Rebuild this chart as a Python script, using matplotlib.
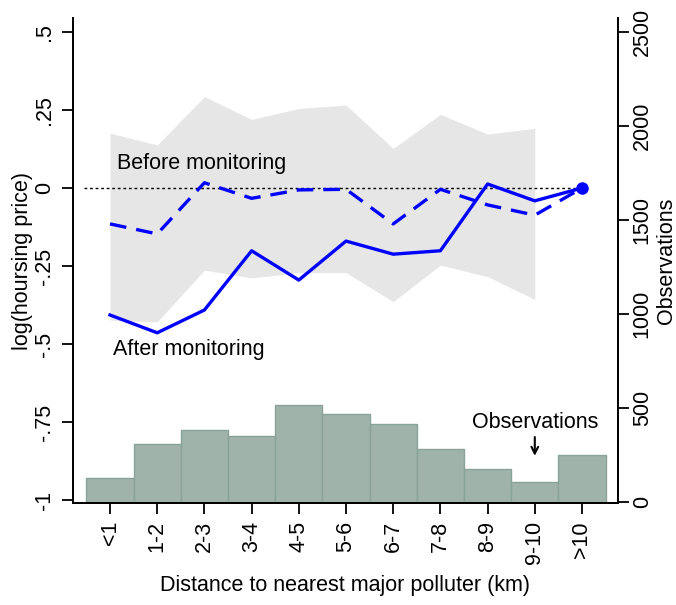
import numpy as np
import matplotlib.pyplot as plt

plt.rcParams['font.family'] = ['Liberation Sans', 'DejaVu Sans']

# distance bins (km)
bins = ["<1", "1-2", "2-3", "3-4", "4-5", "5-6", "6-7", "7-8", "8-9", "9-10", ">10"]

# log(housing price) relative to >10 km
before = [-0.115, -0.147, 0.017, -0.033, -0.006, -0.004, -0.115, -0.004, -0.054, -0.087, 0.0]
after = [-0.407, -0.464, -0.391, -0.201, -0.295, -0.170, -0.212, -0.201, 0.013, -0.041, 0.0]

# confidence band (first ten bins only)
ci_upper = [0.176, 0.138, 0.293, 0.220, 0.255, 0.266, 0.127, 0.236, 0.173, 0.191]
ci_lower = [-0.423, -0.429, -0.263, -0.288, -0.271, -0.271, -0.364, -0.247, -0.284, -0.357]

# number of observations per bin
obs = [128, 310, 385, 353, 513, 470, 417, 283, 176, 107, 251]

left_ticks = [0.5, 0.25, 0, -0.25, -0.5, -0.75, -1]
left_labels = [".5", ".25", "0", "-.25", "-.5", "-.75", "-1"]
right_ticks = [0, 500, 1000, 1500, 2000, 2500]

fs = 15.5
x = np.arange(len(bins))

fig = plt.figure(figsize=(6.76, 6.05), dpi=100)
ax = fig.add_axes([0.108, 0.1686, 0.806, 0.8016])
ax2 = ax.twinx()

# histogram of observations on the right axis
ax2.bar(x, obs, width=1.0, color="#9fb3ab", edgecolor="#8aa398", linewidth=1)
ax2.set_ylim(-6, 2575)
ax2.set_yticks(right_ticks)
ax2.set_yticklabels([str(t) for t in right_ticks], rotation=90, va="center", fontsize=fs)
ax2.set_ylabel("Observations", fontsize=fs, labelpad=2)
ax2.text(x[9], 425, "Observations", ha="center", va="center", fontsize=fs)
ax2.annotate("", xy=(x[9], 245), xytext=(x[9], 345),
             arrowprops=dict(arrowstyle="->", color="black", lw=1.5,
                             mutation_scale=12, shrinkA=0, shrinkB=0))

# coefficient lines on the left axis
ax.set_zorder(ax2.get_zorder() + 1)
ax.patch.set_visible(False)
ax.fill_between(x[:len(ci_upper)], ci_lower, ci_upper, color="#e6e6e6", linewidth=0)
ax.hlines(0, -0.55, x[-1], colors="black", linestyles=(0, (2, 2)), linewidth=1)
ax.plot(x, before, color="#0000ff", lw=2.4, dashes=(5, 3))
ax.plot(x, after, color="#0000ff", lw=2.4)
ax.plot(x[-1], after[-1], "o", color="#0000ff", markersize=8)
ax.text(0.15, 0.08, "Before monitoring", fontsize=fs, va="center", ha="left")
ax.text(0.06, -0.516, "After monitoring", fontsize=fs, va="center", ha="left")

ax.set_xlim(-0.784, 10.76)
ax.set_ylim(-1.0096, 0.545)
ax.set_yticks(left_ticks)
ax.set_yticklabels(left_labels, rotation=90, va="center", fontsize=fs)
ax.set_xticks(x)
ax.set_xticklabels(bins, rotation=90, fontsize=fs)
ax.set_ylabel("log(hoursing price)", fontsize=fs, labelpad=1)
ax.set_xlabel("Distance to nearest major polluter (km)", fontsize=fs, labelpad=8)

for a in (ax, ax2):
    a.spines["top"].set_visible(False)
    a.tick_params(direction="out", length=8, width=1.3, pad=5)
    for s in a.spines.values():
        s.set_linewidth(1.3)
ax2.tick_params(axis="y", pad=2)

plt.savefig("out.png", dpi=100)
